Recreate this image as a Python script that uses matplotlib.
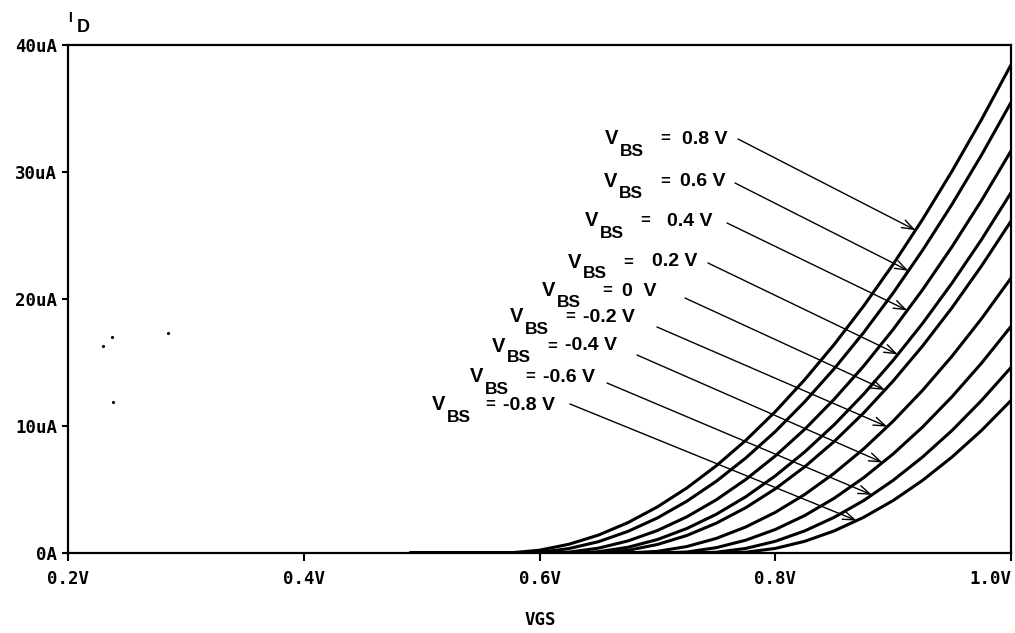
import numpy as np
import matplotlib
matplotlib.use("Agg")
import matplotlib.pyplot as plt

# figure size in pixels
W, H = 1015, 633

# ---- data (uA vs V) ----
vgs = [0.49, 0.525, 0.55, 0.575, 0.6, 0.625, 0.65, 0.675, 0.7, 0.725, 0.75,
       0.775, 0.8, 0.825, 0.85, 0.875, 0.9, 0.925, 0.95, 0.975, 1.0]

id_vbs_p08 = [0, 0, 0, 0.01, 0.22, 0.69, 1.41, 2.39, 3.63, 5.12, 6.87,
              8.87, 11.13, 13.65, 16.42, 19.45, 22.73, 26.27, 30.07, 34.13, 38.44]
id_vbs_p06 = [0, 0, 0, 0, 0.05, 0.35, 0.89, 1.70, 2.76, 4.08, 5.65,
              7.48, 9.56, 11.91, 14.51, 17.36, 20.47, 23.84, 27.46, 31.34, 35.48]
id_vbs_p04 = [0, 0, 0, 0, 0, 0.07, 0.38, 0.95, 1.77, 2.85, 4.19,
              5.79, 7.64, 9.74, 12.11, 14.72, 17.60, 20.73, 24.12, 27.76, 31.66]
id_vbs_p02 = [0, 0, 0, 0, 0, 0, 0.10, 0.45, 1.06, 1.93, 3.05,
              4.43, 6.07, 7.96, 10.10, 12.51, 15.17, 18.08, 21.26, 24.68, 28.37]
id_vbs_0 = [0, 0, 0, 0, 0, 0, 0.01, 0.21, 0.67, 1.38, 2.35,
            3.57, 5.05, 6.79, 8.78, 11.03, 13.54, 16.30, 19.32, 22.60, 26.13]
id_vbs_m02 = [0, 0, 0, 0, 0, 0, 0, 0, 0.13, 0.51, 1.15,
              2.05, 3.20, 4.61, 6.28, 8.20, 10.38, 12.81, 15.50, 18.45, 21.65]
id_vbs_m04 = [0, 0, 0, 0, 0, 0, 0, 0, 0, 0.08, 0.42,
              1.01, 1.85, 2.95, 4.31, 5.93, 7.80, 9.92, 12.31, 14.95, 17.84]
id_vbs_m06 = [0, 0, 0, 0, 0, 0, 0, 0, 0, 0, 0.06,
              0.36, 0.92, 1.74, 2.81, 4.13, 5.72, 7.56, 9.65, 12.01, 14.61]
id_vbs_m08 = [0, 0, 0, 0, 0, 0, 0, 0, 0, 0, 0,
              0.06, 0.36, 0.92, 1.74, 2.81, 4.13, 5.72, 7.56, 9.65, 12.01]

curves = [id_vbs_p08, id_vbs_p06, id_vbs_p04, id_vbs_p02, id_vbs_0,
          id_vbs_m02, id_vbs_m04, id_vbs_m06, id_vbs_m08]
vbs_values = ["0.8 V", "0.6 V", "0.4 V", "0.2 V", "0  V",
              "-0.2 V", "-0.4 V", "-0.6 V", "-0.8 V"]
# VGS where each label arrow touches its curve
arrow_tip_vgs = [0.919, 0.913, 0.912, 0.904, 0.893, 0.895, 0.891, 0.882, 0.869]

x_ticks = [0.2, 0.4, 0.6, 0.8, 1.0]
x_tick_labels = ["0.2V", "0.4V", "0.6V", "0.8V", "1.0V"]
y_ticks = [0, 10, 20, 30, 40]
y_tick_labels = ["0A", "10uA", "20uA", "30uA", "40uA"]

# scan specks on the left of the plot
speck_x = [0.2297, 0.2373, 0.2848, 0.2382]
speck_y = [16.3, 17.0, 17.3, 11.9]

# ---- label layout, in pixels: V x, row y, '=' x, value x, arrow start ----
label_layout = [
    (605, 139, 660, 682, 738, 139),
    (604, 182, 660, 680, 735, 183),
    (585, 221, 640, 667, 727, 223),
    (568, 262, 623, 652, 708, 263),
    (542, 291, 602, 622, 685, 298),
    (510, 317, 565, 583, 657, 327),
    (492, 346, 547, 565, 637, 355),
    (470, 377, 525, 543, 607, 383),
    (432, 405, 485, 503, 570, 404),
]

tick_font = dict(family="DejaVu Sans Mono", weight="bold", size=12.5)
lab_font = dict(family="Liberation Sans", weight="bold")


def fx(px):
    return px / W


def fy(py):
    return 1 - py / H


fig = plt.figure(figsize=(W / 100, H / 100), dpi=100)
ax = fig.add_axes([fx(68), fy(553), (1011 - 68) / W, (553 - 45) / H])

for vals in curves:
    ax.plot(vgs, vals, color="black", lw=2.2, solid_capstyle="butt")

ax.scatter(speck_x, speck_y, s=5, color="black", linewidths=0)

ax.set_xlim(0.2, 1.0)
ax.set_ylim(0, 40)
ax.set_xticks(x_ticks)
ax.set_xticklabels(x_tick_labels, fontdict=tick_font)
ax.set_yticks(y_ticks)
ax.set_yticklabels(y_tick_labels, fontdict=tick_font)
ax.get_xticklabels()[-1].set_ha("right")
ax.tick_params(axis="x", direction="out", length=5.8, width=1.5, pad=6.5)
ax.tick_params(axis="y", direction="out", length=4.3, width=1.5, pad=3.6)
for s in ax.spines.values():
    s.set_linewidth(1.6)

# labels with arrows
for i, (vx, vy, eqx, valx, sx, sy) in enumerate(label_layout):
    fig.text(fx(vx), fy(vy), "V", fontsize=14.5, va="center", **lab_font)
    fig.text(fx(vx + 15), fy(vy + 12), "BS", fontsize=12.5, va="center", **lab_font)
    fig.text(fx(eqx), fy(vy), "=", fontsize=12, va="center", **lab_font)
    fig.text(fx(valx), fy(vy), vbs_values[i], fontsize=14, va="center", **lab_font)
    tip_v = arrow_tip_vgs[i]
    tip_i = np.interp(tip_v, vgs, curves[i])
    ax.annotate("", xy=(tip_v, tip_i), xycoords="data",
                xytext=(fx(sx), fy(sy)), textcoords="figure fraction",
                arrowprops=dict(arrowstyle="->,head_length=0.7,head_width=0.25",
                                lw=1.0, color="black", shrinkA=0, shrinkB=0,
                                mutation_scale=12))

# axis titles
fig.text(fx(68), fy(18), "I", fontsize=10, va="center", **lab_font)
fig.text(fx(77), fy(27), "D", fontsize=13, va="center", **lab_font)
fig.text(fx(540), fy(620), "VGS", ha="center", va="center", **tick_font)

fig.savefig("out.png", dpi=100)
